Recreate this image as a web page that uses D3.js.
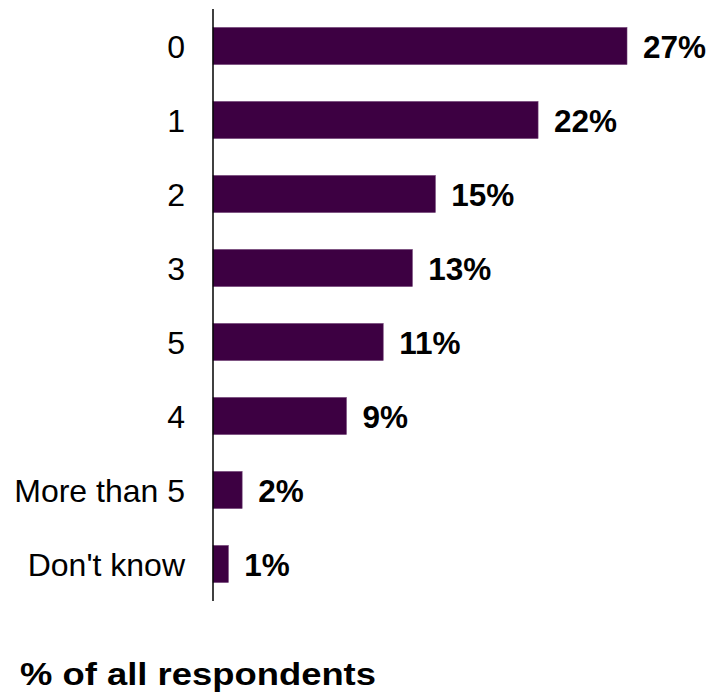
<!DOCTYPE html>
<html>
<head>
<meta charset="utf-8">
<script src="https://cdn.jsdelivr.net/npm/d3@7"></script>
<style>
  body { margin: 0; background: #fff; }
  text { font-family: "Liberation Sans", Arial, sans-serif; }
</style>
</head>
<body>
<svg id="chart" width="712" height="693"></svg>
<script>
// data
const categories = ["0", "1", "2", "3", "5", "4", "More than 5", "Don't know"];
const values = [27, 21.2, 14.5, 13.0, 11.1, 8.7, 1.9, 1.0];
const valueLabels = ["27%", "22%", "15%", "13%", "11%", "9%", "2%", "1%"];
const rows = categories.map((c, i) => ({ cat: c, value: values[i], label: valueLabels[i] }));

const svg = d3.select("#chart"),
    width = +svg.attr("width"),
    height = +svg.attr("height");

const margin = { top: 9, left: 213 };

// x scale: 27% reaches ~627px
const x = d3.scaleLinear()
    .domain([0, 27])
    .range([margin.left, 627]);

const y = d3.scaleBand()
    .domain(categories)
    .range([margin.top, 601])
    .paddingInner(0.5)
    .paddingOuter(0.25);

// bars
svg.selectAll(".bar")
    .data(rows)
    .join("rect")
    .attr("class", "bar")
    .attr("x", x(0))
    .attr("y", d => y(d.cat))
    .attr("width", d => x(d.value) - x(0))
    .attr("height", y.bandwidth())
    .attr("fill", "#3d0042")
    .attr("stroke", "#6b3a70")
    .attr("stroke-width", 0.6);

// value labels
svg.selectAll(".val")
    .data(rows)
    .join("text")
    .attr("class", "val")
    .attr("x", d => x(d.value) + 16)
    .attr("y", d => y(d.cat) + y.bandwidth() / 2)
    .attr("dy", "0.37em")
    .style("font-size", "31.5px")
    .style("font-weight", "bold")
    .style("fill", "#000")
    .text(d => d.label);

// category labels
svg.selectAll(".cat")
    .data(rows)
    .join("text")
    .attr("class", "cat")
    .attr("x", margin.left - 28)
    .attr("y", d => y(d.cat) + y.bandwidth() / 2)
    .attr("dy", "0.37em")
    .attr("text-anchor", "end")
    .style("font-size", "32px")
    .style("fill", "#000")
    .text(d => d.cat);

// axis line
svg.append("line")
    .attr("x1", margin.left)
    .attr("x2", margin.left)
    .attr("y1", y.range()[0])
    .attr("y2", y.range()[1])
    .attr("stroke", "#000")
    .attr("stroke-width", 1.5);

// footer title (wider in the reference than plain text, so stretch it)
svg.append("text")
    .attr("x", 20)
    .attr("y", 685)
    .attr("textLength", 356)
    .attr("lengthAdjust", "spacingAndGlyphs")
    .style("font-size", "31px")
    .style("font-weight", "bold")
    .style("fill", "#000")
    .text("% of all respondents");
</script>
</body>
</html>
